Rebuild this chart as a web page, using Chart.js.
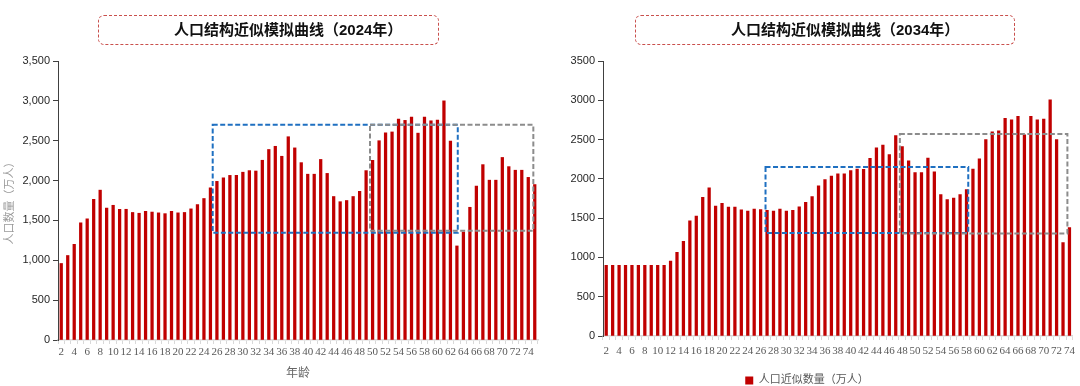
<!DOCTYPE html>
<html>
<head>
<meta charset="utf-8">
<script src="https://cdn.jsdelivr.net/npm/chart.js@4/dist/chart.umd.min.js"></script>
<style>
body{margin:0;background:#fff;}
#wrap{position:relative;width:1080px;height:386px;overflow:hidden;}
canvas{position:absolute;top:0;}
.ttl{position:absolute;top:15px;height:30px;box-sizing:border-box;border:1px dashed #c9504d;border-radius:6px;
 font:bold 15px "Liberation Sans","Noto Sans CJK SC",sans-serif;line-height:28px;color:#111;white-space:nowrap;}
</style>
</head>
<body>
<div id="wrap">
  <canvas id="left" width="540" height="386" style="left:0"></canvas>
  <canvas id="right" width="540" height="386" style="left:540px"></canvas>
  <div class="ttl" style="left:98px;width:341px;padding-left:75px">人口结构近似模拟曲线（2024年）</div>
  <div class="ttl" style="left:635px;width:380px;padding-left:95px">人口结构近似模拟曲线（2034年）</div>
</div>
<script>
var agesLeft = [2,3,4,5,6,7,8,9,10,11,12,13,14,15,16,17,18,19,20,21,22,23,24,25,26,27,28,29,30,31,32,33,34,35,36,37,38,
  39,40,41,42,43,44,45,46,47,48,49,50,51,52,53,54,55,56,57,58,59,60,61,62,63,64,65,66,67,68,69,70,71,72,73,74,75];
var agesRight = [2,3,4,5,6,7,8,9,10,11,12,13,14,15,16,17,18,19,20,21,22,23,24,25,26,27,28,29,30,31,32,33,34,35,36,37,38,
  39,40,41,42,43,44,45,46,47,48,49,50,51,52,53,54,55,56,57,58,59,60,61,62,63,64,65,66,67,68,69,70,71,72,73,74];
var tickAges = [2,4,6,8,10,12,14,16,18,20,22,24,26,28,30,32,34,36,38,40,42,44,46,48,50,52,54,56,58,60,62,64,66,68,70,72,74];

var pop2024 = [960,1060,1200,1470,1520,1765,1880,1655,1690,1640,1640,1600,1590,1615,1605,1595,1585,1615,1595,1600,
  1645,1700,1775,1910,1990,2035,2065,2065,2105,2125,2120,2255,2390,2430,2305,2550,2410,2225,2080,2080,
  2265,2090,1800,1735,1750,1800,1865,2125,2255,2500,2600,2610,2770,2755,2795,2595,2795,2750,2760,3000,
  2495,1180,1355,1665,1930,2200,2005,2005,2290,2175,2130,2130,2040,1950];
var pop2034 = [900,900,900,900,900,900,900,900,900,900,
  955,1065,1205,1465,1525,1765,1885,1655,1690,1640,1640,1605,1590,1615,1610,1600,1590,1615,1590,1600,
  1645,1700,1775,1910,1990,2035,2065,2065,2105,2125,2120,2260,2395,2430,2310,2550,2410,2230,2080,2080,
  2265,2090,1800,1735,1755,1800,1865,2125,2255,2500,2600,2610,2770,2750,2795,2560,2795,2750,2760,3005,
  2500,1190,1380];

// dashed highlight boxes, edges in age / value units
var boxesLeft = [
  {a0:25.35, a1:63.13, v0:1345, v1:2700, color:'#1f70c1'},
  {a0:49.6, a1:74.78, v0:1370, v1:2700, color:'#8c8c8c'}
];
var boxesRight = [
  {a0:26.76, a1:58.27, v0:1310, v1:2150, color:'#1f70c1'},
  {a0:47.64, a1:73.68, v0:1305, v1:2570, color:'#8c8c8c'}
];

var boxPlugin = {
  id:'boxes',
  afterDatasetsDraw:function(chart, args, opts){
    var ctx = chart.ctx, x = chart.scales.x, y = chart.scales.y;
    var first = chart.data.labels[0];
    opts.items.forEach(function(b){
      var x0 = x.getPixelForValue(b.a0 - first), x1 = x.getPixelForValue(b.a1 - first);
      var y0 = y.getPixelForValue(b.v1), y1 = y.getPixelForValue(b.v0);
      ctx.save();
      ctx.strokeStyle = b.color;
      ctx.lineWidth = 2;
      ctx.setLineDash([5,2.5]);
      ctx.strokeRect(x0, y0, x1 - x0, y1 - y0);
      ctx.restore();
    });
  }
};

function makeChart(id, ages, values, boxes, isLeft){
  return new Chart(document.getElementById(id).getContext('2d'),{
    type:'bar',
    data:{
      labels:ages,
      datasets:[{
        label:'人口近似数量（万人）',
        data:values,
        backgroundColor:'#c00000',
        barThickness:2.6
      }]
    },
    options:{
      responsive:false,
      animation:false,
      devicePixelRatio:1,
      layout:{padding:{top:61,right:isLeft?2:6,left:0,bottom:isLeft?0:-10}},
      plugins:{
        legend:{
          display:!isLeft,
          position:'bottom',
          labels:{boxWidth:8,boxHeight:8,padding:8,color:'#595959',
            font:{size:11,family:'"Liberation Serif","Noto Sans CJK SC",serif'}}
        },
        tooltip:{enabled:false},
        boxes:{items:boxes}
      },
      scales:{
        x:{
          grid:{display:true,drawOnChartArea:false,color:'#d9d9d9',tickLength:4,offset:true},
          border:{display:true,color:'#d9d9d9',width:1.5},
          ticks:{autoSkip:false,maxRotation:0,padding:isLeft?2:5,color:'#595959',
            font:{size:11,family:'"Liberation Serif",serif'},
            callback:function(v,i){ return tickAges.indexOf(ages[i]) >= 0 ? String(ages[i]) : ''; }},
          title:{display:isLeft,text:'年龄',color:'#666',padding:{top:4,bottom:6},
            font:{size:12,family:'"Noto Sans CJK SC",sans-serif'}},
          afterFit:function(s){ s.height = isLeft ? 46 : 31; }
        },
        y:{
          min:0,max:3500,
          grid:{display:true,drawOnChartArea:false,color:'#404040',tickLength:5},
          border:{display:true,color:'#404040',width:1},
          ticks:{stepSize:500,padding:3,color:'#262626',
            font:{size:11,family:'"Liberation Sans",Arial,sans-serif'},
            callback:function(v){ return isLeft ? v.toLocaleString('en-US') : String(v); }},
          title:{display:isLeft,text:'人口数量（万人）',color:'#999',padding:{top:2,bottom:0},
            font:{size:11,family:'"Noto Sans CJK SC",sans-serif'}},
          afterFit:function(s){ s.width = isLeft ? 58 : 63; }
        }
      }
    },
    plugins:[boxPlugin]
  });
}

makeChart('left', agesLeft, pop2024, boxesLeft, true);
makeChart('right', agesRight, pop2034, boxesRight, false);
</script>
</body>
</html>
